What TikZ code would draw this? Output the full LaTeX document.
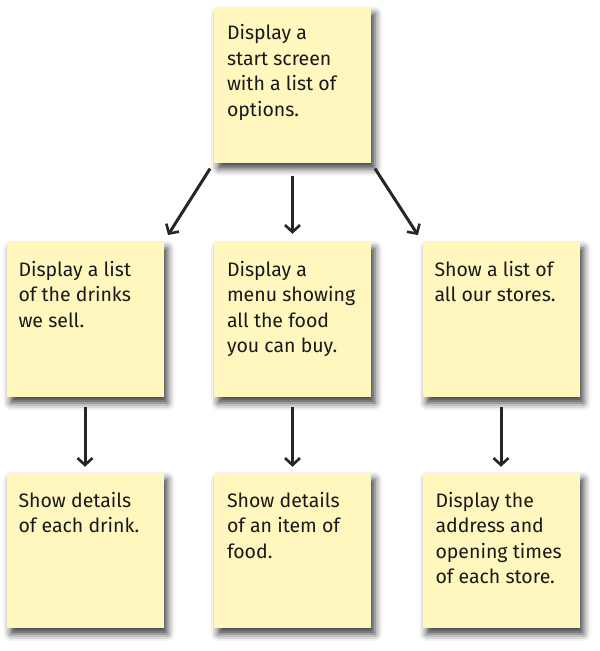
\documentclass[tikz,border=0pt]{standalone}
\usepackage{fontspec}
\setmainfont{Fira Sans}
\usetikzlibrary{shadows.blur,arrows.meta}
\definecolor{notefill}{RGB}{255,247,190}
\begin{document}
\begin{tikzpicture}[x=1pt,y=-1pt,
  note/.style={rectangle,fill=notefill,minimum width=157pt,minimum height=155pt,inner sep=0pt,
    blur shadow={shadow xshift=4pt,shadow yshift=-6pt,shadow blur radius=7pt,shadow opacity=75}},
  notetext/.style={anchor=north west,align=left,inner sep=0pt,font=\fontsize{19.5}{25.5}\selectfont,text=black!90},
  flow/.style={line width=3pt,black!85,-{Straight Barb[length=7pt,width=15pt,line width=2.6pt]}}]
\useasboundingbox (0,0) rectangle (600,651);
\node[note] (top) at (292.5,85) {};
\node[note] (drinks) at (85,319.5) {};
\node[note] (menu) at (292.5,319.5) {};
\node[note] (stores) at (501,319.5) {};
\node[note] (drink) at (85,550.5) {};
\node[note] (food) at (292.5,550.5) {};
\node[note] (store) at (501,550.5) {};
\node[notetext] (ttop) at ([shift={(13pt,-17pt)}]top.north west) {Display a\\start screen\\with a list of\\options.};
\node[notetext] (tdrinks) at ([shift={(12pt,-19pt)}]drinks.north west) {Display a list\\of the drinks\\we sell.};
\node[notetext] (tmenu) at ([shift={(13pt,-19pt)}]menu.north west) {Display a\\menu showing\\all the food\\you can buy.};
\node[notetext] (tstores) at ([shift={(12pt,-19pt)}]stores.north west) {Show a list of\\all our stores.};
\node[notetext] (tdrink) at ([shift={(12pt,-19pt)}]drink.north west) {Show details\\of each drink.};
\node[notetext] (tfood) at ([shift={(13pt,-19pt)}]food.north west) {Show details\\of an item of\\food.};
\node[notetext] (tstore) at ([shift={(13pt,-19pt)}]store.north west) {Display the\\address and\\opening times\\of each store.};
\draw[flow,shorten <=7pt,shorten >=8pt] (top.south west) -- (drinks.north east);
\draw[flow,shorten <=13pt,shorten >=8pt] (top.south) -- (menu.north);
\draw[flow,shorten <=7pt,shorten >=8pt] (top.south east) -- (stores.north west);
\draw[flow,shorten <=10pt,shorten >=6pt] (drinks.south) -- (drink.north);
\draw[flow,shorten <=10pt,shorten >=6pt] (menu.south) -- (food.north);
\draw[flow,shorten <=10pt,shorten >=6pt] (stores.south) -- (store.north);
\end{tikzpicture}
\end{document}
